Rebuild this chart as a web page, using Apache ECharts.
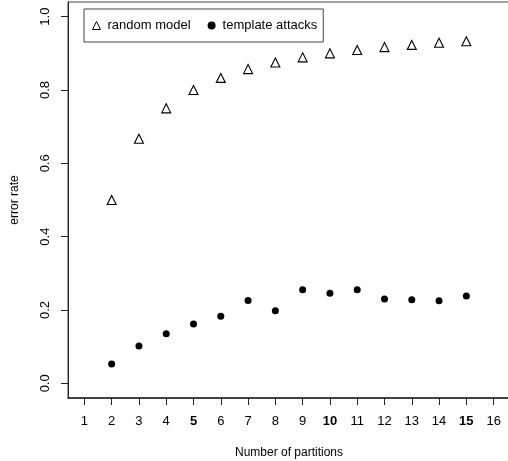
<!DOCTYPE html>
<html>
<head>
<meta charset="utf-8">
<script src="https://cdn.jsdelivr.net/npm/echarts@6/dist/echarts.min.js"></script>
<style>
  html, body { margin: 0; padding: 0; background: #fff; }
  #chart { width: 508px; height: 461px; }
</style>
</head>
<body>
<div id="chart"></div>
<script>
// partitions on the x axis
const partitions = [2, 3, 4, 5, 6, 7, 8, 9, 10, 11, 12, 13, 14, 15];
// error rate
const randomModel = [0.5, 0.667, 0.75, 0.8, 0.833, 0.857, 0.875, 0.889, 0.9, 0.909, 0.917, 0.923, 0.929, 0.933];
const templateAttacks = [0.053, 0.102, 0.135, 0.162, 0.183, 0.226, 0.198, 0.255, 0.246, 0.255, 0.23, 0.228, 0.225, 0.238];
// tick labels
const xTicks = [1, 2, 3, 4, 5, 6, 7, 8, 9, 10, 11, 12, 13, 14, 15, 16];
const boldTicks = [5, 10, 15];
const yTicks = [0, 0.2, 0.4, 0.6, 0.8, 1.0];

const font = '"Liberation Sans", Arial, sans-serif';
const chart = echarts.init(document.getElementById('chart'));

const option = {
  animation: false,
  backgroundColor: '#fff',
  textStyle: { fontFamily: font, color: '#000' },
  grid: {
    left: 68, top: 2, width: 442, height: 396,
    outerBoundsMode: 'none', containLabel: false,
    show: true, borderColor: '#444', borderWidth: 1
  },
  legend: {
    left: 84, top: 9,
    padding: [10, 6, 10, 8],
    borderColor: '#444', borderWidth: 1,
    itemGap: 17, itemWidth: 8, itemHeight: 8,
    itemStyle: { borderWidth: 1 },
    textStyle: { fontFamily: font, fontSize: 13, color: '#000', padding: [0, 0, 0, 2] },
    data: ['random model', 'template attacks']
  },
  xAxis: {
    type: 'value', min: 0.4, max: 16.6,
    name: 'Number of partitions', nameLocation: 'middle', nameGap: 49,
    nameTextStyle: { fontFamily: font, fontSize: 12, color: '#000' },
    axisLine: { show: true, onZero: false, lineStyle: { color: '#222', width: 1.5 } },
    axisTick: { show: true, length: 7, customValues: xTicks, lineStyle: { color: '#222' } },
    axisLabel: {
      customValues: xTicks, margin: 17, fontSize: 13, color: '#000',
      formatter: v => boldTicks.includes(v) ? '{b|' + v + '}' : String(v),
      rich: { b: { fontWeight: 'bold', fontSize: 13, color: '#000', fontFamily: font } }
    },
    splitLine: { show: false }
  },
  yAxis: {
    type: 'value', min: -0.04, max: 1.04,
    name: 'error rate', nameLocation: 'middle', nameGap: 47,
    nameTextStyle: { fontFamily: font, fontSize: 12, color: '#000' },
    axisLine: { show: true, onZero: false, lineStyle: { color: '#222' } },
    axisTick: { show: true, length: 7, customValues: yTicks, lineStyle: { color: '#222' } },
    axisLabel: {
      customValues: yTicks, rotate: 90, margin: 16, fontSize: 13, color: '#000',
      formatter: v => v.toFixed(1)
    },
    splitLine: { show: false }
  },
  series: [
    {
      name: 'random model', type: 'scatter', symbol: 'triangle', symbolSize: 9,
      itemStyle: { color: '#fff', borderColor: '#000', borderWidth: 1.1, opacity: 1 },
      data: partitions.map((p, i) => [p, randomModel[i]])
    },
    {
      name: 'template attacks', type: 'scatter', symbol: 'circle', symbolSize: 7,
      itemStyle: { color: '#000', opacity: 1 },
      data: partitions.map((p, i) => [p, templateAttacks[i]])
    }
  ]
};
chart.setOption(option);
</script>
</body>
</html>
